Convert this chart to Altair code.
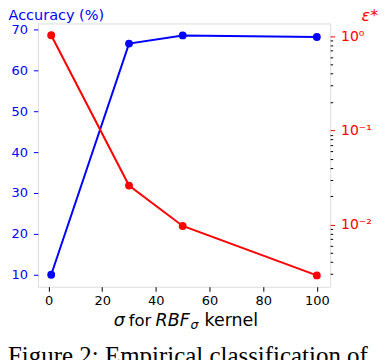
import altair as alt
import pandas as pd

sigma = [1, 30, 50, 100]
accuracy = [10.0, 66.5, 68.5, 68.1]
eps = [1.02, 0.026, 0.0097, 0.0029]

x_ticks = [0, 20, 40, 60, 80, 100]
acc_ticks = [10, 20, 30, 40, 50, 60, 70]
eps_ticks = [0.003, 0.004, 0.005, 0.006, 0.007, 0.008, 0.009,
             0.01, 0.02, 0.03, 0.04, 0.05, 0.06, 0.07, 0.08, 0.09,
             0.1, 0.2, 0.3, 0.4, 0.5, 0.6, 0.7, 0.8, 0.9, 1.0]

df = pd.DataFrame({"sigma": sigma, "acc": accuracy, "eps": eps})

BLUE = "#0000ff"
RED = "#ff0000"
FONT = "DejaVu Sans"

major = "abs(log(datum.value)/LN10 - round(log(datum.value)/LN10)) < 0.001"
lab = ("(" + major + ") ? (round(log(datum.value)/LN10) == 0 ? '10\u2070' : "
       "round(log(datum.value)/LN10) == -1 ? '10\u207b\u00b9' : '10\u207b\u00b2') : ''")

xenc = alt.X("sigma:Q",
             scale=alt.Scale(domain=[-3.95, 104.95], nice=False, zero=False),
             axis=alt.Axis(values=x_ticks, title=None, grid=False, domain=False,
                           tickColor="black", tickSize=4.5, labelColor="black",
                           labelFontSize=13, labelFont=FONT, labelPadding=3,
                           labelFlush=False))

base = alt.Chart(df)

blue_y = alt.Y("acc:Q",
               scale=alt.Scale(domain=[7.075, 71.425], nice=False, zero=False),
               axis=alt.Axis(values=acc_ticks, orient="left", grid=False, domain=False,
                             tickColor=BLUE, tickSize=4.5, labelColor=BLUE,
                             labelFontSize=13, labelFont=FONT, labelPadding=6,
                             title="Accuracy (%)", titleColor=BLUE, titleFont=FONT,
                             titleFontSize=14.5, titleFontWeight="normal", titleAngle=0,
                             titleAlign="left", titleBaseline="alphabetic",
                             titleX=-30, titleY=-4.2))

blue = base.mark_line(color=BLUE, strokeWidth=2).encode(x=xenc, y=blue_y) + \
    base.mark_circle(color=BLUE, size=62, opacity=1).encode(x=xenc, y=blue_y)

red_y = alt.Y("eps:Q",
              scale=alt.Scale(type="log", domain=[0.0022, 1.36], nice=False),
              axis=alt.Axis(values=eps_ticks, orient="right", grid=False, domain=False,
                            tickColor={"condition": {"test": major, "value": RED}, "value": "black"},
                            tickSize={"condition": {"test": major, "value": 4.5}, "value": 2.5},
                            labelExpr=lab, labelColor=RED, labelFontSize=14,
                            labelFont=FONT, labelPadding=6, labelOverlap=False,
                            labelFlush=False,
                            title="\u03b5*", titleColor=RED, titleFont=FONT,
                            titleFontSize=16, titleFontWeight="normal",
                            titleFontStyle="italic", titleAngle=0,
                            titleAlign="left", titleBaseline="alphabetic",
                            titleX=31, titleY=-3))

red = base.mark_line(color=RED, strokeWidth=2).encode(x=xenc, y=red_y) + \
    base.mark_circle(color=RED, size=62, opacity=1).encode(x=xenc, y=red_y)

one = alt.Data(values=[{"k": 1}])


def txt(s, x, y, size=17.5, style="normal", color="black", font=FONT):
    return alt.Chart(one).mark_text(
        text=s, align="left", baseline="alphabetic", font=font, fontSize=size,
        fontStyle=style, color=color
    ).encode(x=alt.value(x), y=alt.value(y))


labels = alt.layer(
    txt("\u03c3", 76, 303, style="italic"),
    txt("for", 91, 303, size=16.5),
    txt("RBF", 118, 303, style="italic"),
    txt("\u03c3", 153, 306, size=12.5, style="italic"),
    txt("kernel", 167, 303),
    txt("Figure 2: Empirical classification of", -30, 341.5, size=25,
        font="Liberation Serif"),
)

chart = alt.layer(blue, red, labels).resolve_scale(y="independent").properties(
    width=293, height=264,
    autosize=alt.AutoSizeParams(type="none"),
    padding={"left": 30, "top": 15, "right": 50, "bottom": 80},
).configure_view(stroke="black", strokeWidth=1).configure(background="white")

chart.save("out.html", embed_options={"renderer": "svg", "actions": False})
